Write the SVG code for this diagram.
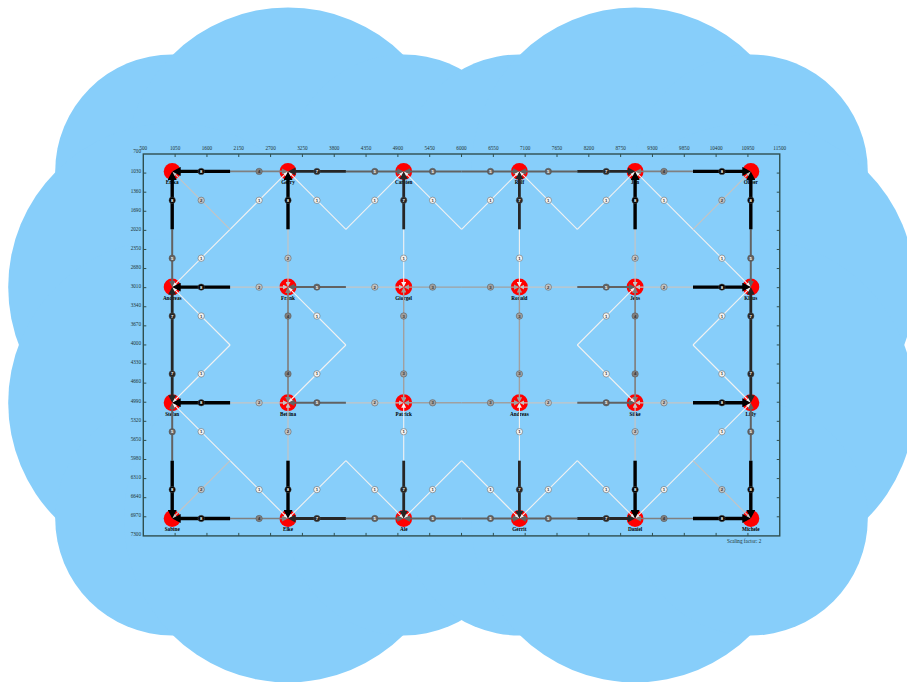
<svg xmlns="http://www.w3.org/2000/svg" width="907" height="682" viewBox="0 0 907 682">
<style>
.cloud circle,.cloud rect{fill:#87cefa}
.ax{fill:none;stroke:#2f4f4f;stroke-width:1.4}
.tk{fill:none;stroke:#2f4f4f;stroke-width:1}
.tl{font-family:"Liberation Serif",serif;font-size:5.2px;fill:#1e3333}
.tx{text-anchor:middle}
.ty{text-anchor:end}
.nd circle{fill:#ff0000}
.nd text{font-family:"Liberation Serif",serif;font-weight:bold;font-size:5.2px;fill:#000;text-anchor:middle}
path.w1,path.w2,path.w3,path.w4,path.w5,path.w7,path.w8{fill:none}
.w1{stroke:#f2f2f2;stroke-width:1.1;marker-end:url(#a1)}
.w2{stroke:#c4c4c4;stroke-width:1.2;marker-end:url(#a2)}
.w3{stroke:#a0a0a0;stroke-width:1.4;marker-end:url(#a3)}
.w4{stroke:#808080;stroke-width:1.7;marker-end:url(#a4)}
.w5{stroke:#626262;stroke-width:2;marker-end:url(#a5)}
.w7{stroke:#262626;stroke-width:2.8;marker-end:url(#a7)}
.w8{stroke:#000;stroke-width:3.4;marker-end:url(#a8)}
.c1{fill:#f2f2f2}.c2{fill:#c4c4c4}.c3{fill:#a0a0a0}.c4{fill:#808080}.c5{fill:#626262}.c7{fill:#262626}.c8{fill:#000}
.edge circle{stroke-width:0.5;stroke:#555}
.edge text{font-family:"Liberation Sans",sans-serif;font-weight:bold;font-size:4.3px;text-anchor:middle}
.dk{fill:#333}.lt{fill:#fff}
.note{font-family:"Liberation Serif",serif;font-size:5.2px;fill:#1e3333}
</style>
<defs>
<marker id="a1" viewBox="0 0 5 5" refX="1" refY="2.5" markerWidth="5" markerHeight="5" markerUnits="userSpaceOnUse" orient="auto"><path d="M0,0L5,2.5L0,5z" fill="#f2f2f2"/></marker>
<marker id="a2" viewBox="0 0 5 5" refX="1" refY="2.5" markerWidth="5" markerHeight="5" markerUnits="userSpaceOnUse" orient="auto"><path d="M0,0L5,2.5L0,5z" fill="#c4c4c4"/></marker>
<marker id="a3" viewBox="0 0 5.5 5.5" refX="1.5" refY="2.75" markerWidth="5.5" markerHeight="5.5" markerUnits="userSpaceOnUse" orient="auto"><path d="M0,0L5.5,2.75L0,5.5z" fill="#a0a0a0"/></marker>
<marker id="a4" viewBox="0 0 6 6" refX="2" refY="3" markerWidth="6" markerHeight="6" markerUnits="userSpaceOnUse" orient="auto"><path d="M0,0L6,3L0,6z" fill="#808080"/></marker>
<marker id="a5" viewBox="0 0 6.5 6.5" refX="2.5" refY="3.25" markerWidth="6.5" markerHeight="6.5" markerUnits="userSpaceOnUse" orient="auto"><path d="M0,0L6.5,3.25L0,6.5z" fill="#626262"/></marker>
<marker id="a7" viewBox="0 0 7.5 8" refX="3.5" refY="4" markerWidth="7.5" markerHeight="8" markerUnits="userSpaceOnUse" orient="auto"><path d="M0,0L7.5,4L0,8z" fill="#262626"/></marker>
<marker id="a8" viewBox="0 0 8.5 9" refX="4.5" refY="4.5" markerWidth="8.5" markerHeight="9" markerUnits="userSpaceOnUse" orient="auto"><path d="M0,0L8.5,4.5L0,9z" fill="#000"/></marker>
</defs>
<rect width="907" height="682" fill="#fff"/>
<g class="cloud">
<circle cx="172.2" cy="171.4" r="117"/><circle cx="288" cy="171.4" r="164"/><circle cx="403.7" cy="171.4" r="117"/><circle cx="519.4" cy="171.4" r="117"/><circle cx="635.1" cy="171.4" r="164"/><circle cx="750.8" cy="171.4" r="117"/>
<circle cx="172.2" cy="287.1" r="164"/><circle cx="172.2" cy="402.8" r="164"/><circle cx="750.8" cy="287.1" r="164"/><circle cx="750.8" cy="402.8" r="164"/>
<circle cx="172.2" cy="518.5" r="117"/><circle cx="288" cy="518.5" r="164"/><circle cx="403.7" cy="518.5" r="117"/><circle cx="519.4" cy="518.5" r="117"/><circle cx="635.1" cy="518.5" r="164"/><circle cx="750.8" cy="518.5" r="117"/>
<rect x="172" y="171" width="579" height="348"/>
</g>
<g id="axes">
<rect class="ax" x="143.3" y="154" width="636.45" height="381.9"/>
<path class="tk" d="M175.12,154v3M206.95,154v3M238.77,154v3M270.59,154v3M302.42,154v3M334.24,154v3M366.06,154v3M397.88,154v3M429.71,154v3M461.53,154v3M493.35,154v3M525.17,154v3M557,154v3M588.82,154v3M620.64,154v3M652.46,154v3M684.29,154v3M716.11,154v3M747.93,154v3"/>
<path class="tk" d="M175.12,535.9v-3M206.95,535.9v-3M238.77,535.9v-3M270.59,535.9v-3M302.42,535.9v-3M334.24,535.9v-3M366.06,535.9v-3M397.88,535.9v-3M429.71,535.9v-3M461.53,535.9v-3M493.35,535.9v-3M525.17,535.9v-3M557,535.9v-3M588.82,535.9v-3M620.64,535.9v-3M652.46,535.9v-3M684.29,535.9v-3M716.11,535.9v-3M747.93,535.9v-3"/>
<path class="tk" d="M143.3,173.09h3M143.3,192.19h3M143.3,211.28h3M143.3,230.38h3M143.3,249.47h3M143.3,268.56h3M143.3,287.66h3M143.3,306.75h3M143.3,325.85h3M143.3,344.94h3M143.3,364.03h3M143.3,383.13h3M143.3,402.22h3M143.3,421.32h3M143.3,440.41h3M143.3,459.5h3M143.3,478.6h3M143.3,497.69h3M143.3,516.79h3"/>
<path class="tk" d="M779.75,173.09h-3M779.75,192.19h-3M779.75,211.28h-3M779.75,230.38h-3M779.75,249.47h-3M779.75,268.56h-3M779.75,287.66h-3M779.75,306.75h-3M779.75,325.85h-3M779.75,344.94h-3M779.75,364.03h-3M779.75,383.13h-3M779.75,402.22h-3M779.75,421.32h-3M779.75,440.41h-3M779.75,459.5h-3M779.75,478.6h-3M779.75,497.69h-3M779.75,516.79h-3"/>
<g class="tl tx">
<text x="143.3" y="149.8">500</text><text x="175.12" y="149.8">1050</text><text x="206.95" y="149.8">1600</text><text x="238.77" y="149.8">2150</text><text x="270.59" y="149.8">2700</text><text x="302.42" y="149.8">3250</text><text x="334.24" y="149.8">3800</text><text x="366.06" y="149.8">4350</text><text x="397.88" y="149.8">4900</text><text x="429.71" y="149.8">5450</text><text x="461.53" y="149.8">6000</text><text x="493.35" y="149.8">6550</text><text x="525.17" y="149.8">7100</text><text x="557" y="149.8">7650</text><text x="588.82" y="149.8">8200</text><text x="620.64" y="149.8">8750</text><text x="652.46" y="149.8">9300</text><text x="684.29" y="149.8">9850</text><text x="716.11" y="149.8">10400</text><text x="747.93" y="149.8">10950</text><text x="779.75" y="149.8">11500</text>
</g>
<g class="tl ty">
<text x="141" y="153.3">700</text><text x="141" y="173.4">1030</text><text x="141" y="192.5">1360</text><text x="141" y="211.6">1690</text><text x="141" y="230.7">2020</text><text x="141" y="249.8">2350</text><text x="141" y="268.9">2680</text><text x="141" y="288">3010</text><text x="141" y="307.1">3340</text><text x="141" y="326.2">3670</text><text x="141" y="345.3">4000</text><text x="141" y="364.3">4330</text><text x="141" y="383.4">4660</text><text x="141" y="402.5">4990</text><text x="141" y="421.6">5320</text><text x="141" y="440.7">5650</text><text x="141" y="459.8">5980</text><text x="141" y="478.9">6310</text><text x="141" y="498">6640</text><text x="141" y="517.1">6970</text><text x="141" y="536.2">7300</text>
</g>
<text class="note" x="727" y="542.5">Scaling factor: 2</text>
</g>
<g id="nodes">
<g class="nd" id="n-erika"><circle cx="172.2" cy="171.4" r="8.5"/><text x="172.2" y="184.2">Erika</text></g>
<g class="nd" id="n-gerry"><circle cx="288" cy="171.4" r="8.5"/><text x="288" y="184.2">Gerry</text></g>
<g class="nd" id="n-carsten"><circle cx="403.7" cy="171.4" r="8.5"/><text x="403.7" y="184.2">Carsten</text></g>
<g class="nd" id="n-rolf"><circle cx="519.4" cy="171.4" r="8.5"/><text x="519.4" y="184.2">Rolf</text></g>
<g class="nd" id="n-jan"><circle cx="635.1" cy="171.4" r="8.5"/><text x="635.1" y="184.2">Jan</text></g>
<g class="nd" id="n-oliver"><circle cx="750.8" cy="171.4" r="8.5"/><text x="750.8" y="184.2">Oliver</text></g>
<g class="nd" id="n-andreas1"><circle cx="172.2" cy="287.1" r="8.5"/><text x="172.2" y="299.9">Andreas</text></g>
<g class="nd" id="n-frank"><circle cx="288" cy="287.1" r="8.5"/><text x="288" y="299.9">Frank</text></g>
<g class="nd" id="n-giorgel"><circle cx="403.7" cy="287.1" r="8.5"/><text x="403.7" y="299.9">Giorgel</text></g>
<g class="nd" id="n-ronald"><circle cx="519.4" cy="287.1" r="8.5"/><text x="519.4" y="299.9">Ronald</text></g>
<g class="nd" id="n-jens"><circle cx="635.1" cy="287.1" r="8.5"/><text x="635.1" y="299.9">Jens</text></g>
<g class="nd" id="n-klaus"><circle cx="750.8" cy="287.1" r="8.5"/><text x="750.8" y="299.9">Klaus</text></g>
<g class="nd" id="n-stefan"><circle cx="172.2" cy="402.8" r="8.5"/><text x="172.2" y="415.6">Stefan</text></g>
<g class="nd" id="n-bettina"><circle cx="288" cy="402.8" r="8.5"/><text x="288" y="415.6">Bettina</text></g>
<g class="nd" id="n-patrick"><circle cx="403.7" cy="402.8" r="8.5"/><text x="403.7" y="415.6">Patrick</text></g>
<g class="nd" id="n-andreas2"><circle cx="519.4" cy="402.8" r="8.5"/><text x="519.4" y="415.6">Andreas</text></g>
<g class="nd" id="n-silke"><circle cx="635.1" cy="402.8" r="8.5"/><text x="635.1" y="415.6">Silke</text></g>
<g class="nd" id="n-lilly"><circle cx="750.8" cy="402.8" r="8.5"/><text x="750.8" y="415.6">Lilly</text></g>
<g class="nd" id="n-sabine"><circle cx="172.2" cy="518.5" r="8.5"/><text x="172.2" y="531.3">Sabine</text></g>
<g class="nd" id="n-elke"><circle cx="288" cy="518.5" r="8.5"/><text x="288" y="531.3">Elke</text></g>
<g class="nd" id="n-ale"><circle cx="403.7" cy="518.5" r="8.5"/><text x="403.7" y="531.3">Ale</text></g>
<g class="nd" id="n-gerrit"><circle cx="519.4" cy="518.5" r="8.5"/><text x="519.4" y="531.3">Gerrit</text></g>
<g class="nd" id="n-daniel"><circle cx="635.1" cy="518.5" r="8.5"/><text x="635.1" y="531.3">Daniel</text></g>
<g class="nd" id="n-michele"><circle cx="750.8" cy="518.5" r="8.5"/><text x="750.8" y="531.3">Michele</text></g>
</g>
<g id="connectors">
<g class="edge"><path class="w1" d="M403.7,229.3V283.1"/><circle class="c1" cx="403.7" cy="258.2" r="3.2"/><text class="dk" x="403.7" y="259.7">1</text></g>
<g class="edge"><path class="w1" d="M403.7,460.7V406.8"/><circle class="c1" cx="403.7" cy="431.7" r="3.2"/><text class="dk" x="403.7" y="433.2">1</text></g>
<g class="edge"><path class="w1" d="M519.4,229.3V283.1"/><circle class="c1" cx="519.4" cy="258.2" r="3.2"/><text class="dk" x="519.4" y="259.7">1</text></g>
<g class="edge"><path class="w1" d="M519.4,460.7V406.8"/><circle class="c1" cx="519.4" cy="431.7" r="3.2"/><text class="dk" x="519.4" y="433.2">1</text></g>
<g class="edge"><path class="w1" d="M230.1,229.3L285.2,174.2"/><circle class="c1" cx="259.1" cy="200.3" r="3.2"/><text class="dk" x="259.1" y="201.8">1</text></g>
<g class="edge"><path class="w1" d="M230.1,229.3L175,284.3"/><circle class="c1" cx="201.2" cy="258.2" r="3.2"/><text class="dk" x="201.2" y="259.7">1</text></g>
<g class="edge"><path class="w1" d="M345.9,229.3L290.8,174.2"/><circle class="c1" cx="316.9" cy="200.3" r="3.2"/><text class="dk" x="316.9" y="201.8">1</text></g>
<g class="edge"><path class="w1" d="M345.9,229.3L400.9,174.2"/><circle class="c1" cx="374.8" cy="200.3" r="3.2"/><text class="dk" x="374.8" y="201.8">1</text></g>
<g class="edge"><path class="w1" d="M461.6,229.3L406.5,174.2"/><circle class="c1" cx="432.6" cy="200.3" r="3.2"/><text class="dk" x="432.6" y="201.8">1</text></g>
<g class="edge"><path class="w1" d="M461.6,229.3L516.6,174.2"/><circle class="c1" cx="490.5" cy="200.3" r="3.2"/><text class="dk" x="490.5" y="201.8">1</text></g>
<g class="edge"><path class="w1" d="M577.3,229.3L522.2,174.2"/><circle class="c1" cx="548.3" cy="200.3" r="3.2"/><text class="dk" x="548.3" y="201.8">1</text></g>
<g class="edge"><path class="w1" d="M577.3,229.3L632.3,174.2"/><circle class="c1" cx="606.2" cy="200.3" r="3.2"/><text class="dk" x="606.2" y="201.8">1</text></g>
<g class="edge"><path class="w1" d="M693,229.3L637.9,174.2"/><circle class="c1" cx="664" cy="200.3" r="3.2"/><text class="dk" x="664" y="201.8">1</text></g>
<g class="edge"><path class="w1" d="M693,229.3L748,284.3"/><circle class="c1" cx="721.9" cy="258.2" r="3.2"/><text class="dk" x="721.9" y="259.7">1</text></g>
<g class="edge"><path class="w1" d="M230.1,345L175,289.9"/><circle class="c1" cx="201.2" cy="316" r="3.2"/><text class="dk" x="201.2" y="317.5">1</text></g>
<g class="edge"><path class="w1" d="M230.1,345L175,400"/><circle class="c1" cx="201.2" cy="373.9" r="3.2"/><text class="dk" x="201.2" y="375.4">1</text></g>
<g class="edge"><path class="w1" d="M345.9,345L290.8,289.9"/><circle class="c1" cx="316.9" cy="316" r="3.2"/><text class="dk" x="316.9" y="317.5">1</text></g>
<g class="edge"><path class="w1" d="M345.9,345L290.8,400"/><circle class="c1" cx="316.9" cy="373.9" r="3.2"/><text class="dk" x="316.9" y="375.4">1</text></g>
<g class="edge"><path class="w1" d="M577.3,345L632.3,289.9"/><circle class="c1" cx="606.2" cy="316" r="3.2"/><text class="dk" x="606.2" y="317.5">1</text></g>
<g class="edge"><path class="w1" d="M577.3,345L632.3,400"/><circle class="c1" cx="606.2" cy="373.9" r="3.2"/><text class="dk" x="606.2" y="375.4">1</text></g>
<g class="edge"><path class="w1" d="M693,345L748,289.9"/><circle class="c1" cx="721.9" cy="316" r="3.2"/><text class="dk" x="721.9" y="317.5">1</text></g>
<g class="edge"><path class="w1" d="M693,345L748,400"/><circle class="c1" cx="721.9" cy="373.9" r="3.2"/><text class="dk" x="721.9" y="375.4">1</text></g>
<g class="edge"><path class="w1" d="M230.1,460.7L175,405.6"/><circle class="c1" cx="201.2" cy="431.7" r="3.2"/><text class="dk" x="201.2" y="433.2">1</text></g>
<g class="edge"><path class="w1" d="M230.1,460.7L285.2,515.7"/><circle class="c1" cx="259.1" cy="489.6" r="3.2"/><text class="dk" x="259.1" y="491.1">1</text></g>
<g class="edge"><path class="w1" d="M345.9,460.7L290.8,515.7"/><circle class="c1" cx="316.9" cy="489.6" r="3.2"/><text class="dk" x="316.9" y="491.1">1</text></g>
<g class="edge"><path class="w1" d="M345.9,460.7L400.9,515.7"/><circle class="c1" cx="374.8" cy="489.6" r="3.2"/><text class="dk" x="374.8" y="491.1">1</text></g>
<g class="edge"><path class="w1" d="M461.6,460.7L406.5,515.7"/><circle class="c1" cx="432.6" cy="489.6" r="3.2"/><text class="dk" x="432.6" y="491.1">1</text></g>
<g class="edge"><path class="w1" d="M461.6,460.7L516.6,515.7"/><circle class="c1" cx="490.5" cy="489.6" r="3.2"/><text class="dk" x="490.5" y="491.1">1</text></g>
<g class="edge"><path class="w1" d="M577.3,460.7L522.2,515.7"/><circle class="c1" cx="548.3" cy="489.6" r="3.2"/><text class="dk" x="548.3" y="491.1">1</text></g>
<g class="edge"><path class="w1" d="M577.3,460.7L632.3,515.7"/><circle class="c1" cx="606.2" cy="489.6" r="3.2"/><text class="dk" x="606.2" y="491.1">1</text></g>
<g class="edge"><path class="w1" d="M693,460.7L637.9,515.7"/><circle class="c1" cx="664" cy="489.6" r="3.2"/><text class="dk" x="664" y="491.1">1</text></g>
<g class="edge"><path class="w1" d="M693,460.7L748,405.6"/><circle class="c1" cx="721.9" cy="431.7" r="3.2"/><text class="dk" x="721.9" y="433.2">1</text></g>
<g class="edge"><path class="w2" d="M230.1,229.3L175,174.2"/><circle class="c2" cx="201.2" cy="200.3" r="3.2"/><text class="dk" x="201.2" y="201.8">2</text></g>
<g class="edge"><path class="w2" d="M693,229.3L748,174.2"/><circle class="c2" cx="721.9" cy="200.3" r="3.2"/><text class="dk" x="721.9" y="201.8">2</text></g>
<g class="edge"><path class="w2" d="M230.1,460.7L175,515.7"/><circle class="c2" cx="201.2" cy="489.6" r="3.2"/><text class="dk" x="201.2" y="491.1">2</text></g>
<g class="edge"><path class="w2" d="M693,460.7L748,515.7"/><circle class="c2" cx="721.9" cy="489.6" r="3.2"/><text class="dk" x="721.9" y="491.1">2</text></g>
<g class="edge"><path class="w2" d="M230.1,287.1H284"/><circle class="c2" cx="259.1" cy="287.1" r="3.2"/><text class="dk" x="259.1" y="288.6">2</text></g>
<g class="edge"><path class="w2" d="M345.9,287.1H399.7"/><circle class="c2" cx="374.8" cy="287.1" r="3.2"/><text class="dk" x="374.8" y="288.6">2</text></g>
<g class="edge"><path class="w2" d="M577.3,287.1H523.4"/><circle class="c2" cx="548.3" cy="287.1" r="3.2"/><text class="dk" x="548.3" y="288.6">2</text></g>
<g class="edge"><path class="w2" d="M693,287.1H639.1"/><circle class="c2" cx="664" cy="287.1" r="3.2"/><text class="dk" x="664" y="288.6">2</text></g>
<g class="edge"><path class="w2" d="M230.1,402.8H284"/><circle class="c2" cx="259.1" cy="402.8" r="3.2"/><text class="dk" x="259.1" y="404.3">2</text></g>
<g class="edge"><path class="w2" d="M345.9,402.8H399.7"/><circle class="c2" cx="374.8" cy="402.8" r="3.2"/><text class="dk" x="374.8" y="404.3">2</text></g>
<g class="edge"><path class="w2" d="M577.3,402.8H523.4"/><circle class="c2" cx="548.3" cy="402.8" r="3.2"/><text class="dk" x="548.3" y="404.3">2</text></g>
<g class="edge"><path class="w2" d="M693,402.8H639.1"/><circle class="c2" cx="664" cy="402.8" r="3.2"/><text class="dk" x="664" y="404.3">2</text></g>
<g class="edge"><path class="w2" d="M288,229.3V283.1"/><circle class="c2" cx="288" cy="258.2" r="3.2"/><text class="dk" x="288" y="259.7">2</text></g>
<g class="edge"><path class="w2" d="M288,460.7V406.8"/><circle class="c2" cx="288" cy="431.7" r="3.2"/><text class="dk" x="288" y="433.2">2</text></g>
<g class="edge"><path class="w2" d="M635.1,229.3V283.1"/><circle class="c2" cx="635.1" cy="258.2" r="3.2"/><text class="dk" x="635.1" y="259.7">2</text></g>
<g class="edge"><path class="w2" d="M635.1,460.7V406.8"/><circle class="c2" cx="635.1" cy="431.7" r="3.2"/><text class="dk" x="635.1" y="433.2">2</text></g>
<g class="edge"><path class="w3" d="M461.6,287.1H407.7"/><circle class="c3" cx="432.6" cy="287.1" r="3.2"/><text class="dk" x="432.6" y="288.6">3</text></g>
<g class="edge"><path class="w3" d="M461.6,287.1H515.4"/><circle class="c3" cx="490.5" cy="287.1" r="3.2"/><text class="dk" x="490.5" y="288.6">3</text></g>
<g class="edge"><path class="w3" d="M461.6,402.8H407.7"/><circle class="c3" cx="432.6" cy="402.8" r="3.2"/><text class="dk" x="432.6" y="404.3">3</text></g>
<g class="edge"><path class="w3" d="M461.6,402.8H515.4"/><circle class="c3" cx="490.5" cy="402.8" r="3.2"/><text class="dk" x="490.5" y="404.3">3</text></g>
<g class="edge"><path class="w3" d="M403.7,345V291.1"/><circle class="c3" cx="403.7" cy="316" r="3.2"/><text class="dk" x="403.7" y="317.5">3</text></g>
<g class="edge"><path class="w3" d="M403.7,345V398.8"/><circle class="c3" cx="403.7" cy="373.9" r="3.2"/><text class="dk" x="403.7" y="375.4">3</text></g>
<g class="edge"><path class="w3" d="M519.4,345V291.1"/><circle class="c3" cx="519.4" cy="316" r="3.2"/><text class="dk" x="519.4" y="317.5">3</text></g>
<g class="edge"><path class="w3" d="M519.4,345V398.8"/><circle class="c3" cx="519.4" cy="373.9" r="3.2"/><text class="dk" x="519.4" y="375.4">3</text></g>
<g class="edge"><path class="w4" d="M230.1,171.4H284"/><circle class="c4" cx="259.1" cy="171.4" r="3.2"/><text class="dk" x="259.1" y="172.9">4</text></g>
<g class="edge"><path class="w4" d="M693,171.4H639.1"/><circle class="c4" cx="664" cy="171.4" r="3.2"/><text class="dk" x="664" y="172.9">4</text></g>
<g class="edge"><path class="w4" d="M230.1,518.5H284"/><circle class="c4" cx="259.1" cy="518.5" r="3.2"/><text class="dk" x="259.1" y="520">4</text></g>
<g class="edge"><path class="w4" d="M693,518.5H639.1"/><circle class="c4" cx="664" cy="518.5" r="3.2"/><text class="dk" x="664" y="520">4</text></g>
<g class="edge"><path class="w4" d="M288,345V291.1"/><circle class="c4" cx="288" cy="316" r="3.2"/><text class="dk" x="288" y="317.5">4</text></g>
<g class="edge"><path class="w4" d="M288,345V398.8"/><circle class="c4" cx="288" cy="373.9" r="3.2"/><text class="dk" x="288" y="375.4">4</text></g>
<g class="edge"><path class="w4" d="M635.1,345V291.1"/><circle class="c4" cx="635.1" cy="316" r="3.2"/><text class="dk" x="635.1" y="317.5">4</text></g>
<g class="edge"><path class="w4" d="M635.1,345V398.8"/><circle class="c4" cx="635.1" cy="373.9" r="3.2"/><text class="dk" x="635.1" y="375.4">4</text></g>
<g class="edge"><path class="w5" d="M345.9,171.4H399.7"/><circle class="c5" cx="374.8" cy="171.4" r="3.2"/><text class="lt" x="374.8" y="172.9">5</text></g>
<g class="edge"><path class="w5" d="M461.6,171.4H407.7"/><circle class="c5" cx="432.6" cy="171.4" r="3.2"/><text class="lt" x="432.6" y="172.9">5</text></g>
<g class="edge"><path class="w5" d="M461.6,171.4H515.4"/><circle class="c5" cx="490.5" cy="171.4" r="3.2"/><text class="lt" x="490.5" y="172.9">5</text></g>
<g class="edge"><path class="w5" d="M577.3,171.4H523.4"/><circle class="c5" cx="548.3" cy="171.4" r="3.2"/><text class="lt" x="548.3" y="172.9">5</text></g>
<g class="edge"><path class="w5" d="M345.9,518.5H399.7"/><circle class="c5" cx="374.8" cy="518.5" r="3.2"/><text class="lt" x="374.8" y="520">5</text></g>
<g class="edge"><path class="w5" d="M461.6,518.5H407.7"/><circle class="c5" cx="432.6" cy="518.5" r="3.2"/><text class="lt" x="432.6" y="520">5</text></g>
<g class="edge"><path class="w5" d="M461.6,518.5H515.4"/><circle class="c5" cx="490.5" cy="518.5" r="3.2"/><text class="lt" x="490.5" y="520">5</text></g>
<g class="edge"><path class="w5" d="M577.3,518.5H523.4"/><circle class="c5" cx="548.3" cy="518.5" r="3.2"/><text class="lt" x="548.3" y="520">5</text></g>
<g class="edge"><path class="w5" d="M345.9,287.1H292"/><circle class="c5" cx="316.9" cy="287.1" r="3.2"/><text class="lt" x="316.9" y="288.6">5</text></g>
<g class="edge"><path class="w5" d="M577.3,287.1H631.1"/><circle class="c5" cx="606.2" cy="287.1" r="3.2"/><text class="lt" x="606.2" y="288.6">5</text></g>
<g class="edge"><path class="w5" d="M345.9,402.8H292"/><circle class="c5" cx="316.9" cy="402.8" r="3.2"/><text class="lt" x="316.9" y="404.3">5</text></g>
<g class="edge"><path class="w5" d="M577.3,402.8H631.1"/><circle class="c5" cx="606.2" cy="402.8" r="3.2"/><text class="lt" x="606.2" y="404.3">5</text></g>
<g class="edge"><path class="w5" d="M172.2,229.3V283.1"/><circle class="c5" cx="172.2" cy="258.2" r="3.2"/><text class="lt" x="172.2" y="259.7">5</text></g>
<g class="edge"><path class="w5" d="M172.2,460.7V406.8"/><circle class="c5" cx="172.2" cy="431.7" r="3.2"/><text class="lt" x="172.2" y="433.2">5</text></g>
<g class="edge"><path class="w5" d="M750.8,229.3V283.1"/><circle class="c5" cx="750.8" cy="258.2" r="3.2"/><text class="lt" x="750.8" y="259.7">5</text></g>
<g class="edge"><path class="w5" d="M750.8,460.7V406.8"/><circle class="c5" cx="750.8" cy="431.7" r="3.2"/><text class="lt" x="750.8" y="433.2">5</text></g>
<g class="edge"><path class="w7" d="M345.9,171.4H292"/><circle class="c7" cx="316.9" cy="171.4" r="3.2"/><text class="lt" x="316.9" y="172.9">7</text></g>
<g class="edge"><path class="w7" d="M577.3,171.4H631.1"/><circle class="c7" cx="606.2" cy="171.4" r="3.2"/><text class="lt" x="606.2" y="172.9">7</text></g>
<g class="edge"><path class="w7" d="M345.9,518.5H292"/><circle class="c7" cx="316.9" cy="518.5" r="3.2"/><text class="lt" x="316.9" y="520">7</text></g>
<g class="edge"><path class="w7" d="M577.3,518.5H631.1"/><circle class="c7" cx="606.2" cy="518.5" r="3.2"/><text class="lt" x="606.2" y="520">7</text></g>
<g class="edge"><path class="w7" d="M172.2,345V291.1"/><circle class="c7" cx="172.2" cy="316" r="3.2"/><text class="lt" x="172.2" y="317.5">7</text></g>
<g class="edge"><path class="w7" d="M172.2,345V398.8"/><circle class="c7" cx="172.2" cy="373.9" r="3.2"/><text class="lt" x="172.2" y="375.4">7</text></g>
<g class="edge"><path class="w7" d="M750.8,345V291.1"/><circle class="c7" cx="750.8" cy="316" r="3.2"/><text class="lt" x="750.8" y="317.5">7</text></g>
<g class="edge"><path class="w7" d="M750.8,345V398.8"/><circle class="c7" cx="750.8" cy="373.9" r="3.2"/><text class="lt" x="750.8" y="375.4">7</text></g>
<g class="edge"><path class="w7" d="M403.7,229.3V175.4"/><circle class="c7" cx="403.7" cy="200.3" r="3.2"/><text class="lt" x="403.7" y="201.8">7</text></g>
<g class="edge"><path class="w7" d="M403.7,460.7V514.5"/><circle class="c7" cx="403.7" cy="489.6" r="3.2"/><text class="lt" x="403.7" y="491.1">7</text></g>
<g class="edge"><path class="w7" d="M519.4,229.3V175.4"/><circle class="c7" cx="519.4" cy="200.3" r="3.2"/><text class="lt" x="519.4" y="201.8">7</text></g>
<g class="edge"><path class="w7" d="M519.4,460.7V514.5"/><circle class="c7" cx="519.4" cy="489.6" r="3.2"/><text class="lt" x="519.4" y="491.1">7</text></g>
<g class="edge"><path class="w8" d="M230.1,171.4H176.2"/><circle class="c8" cx="201.2" cy="171.4" r="3.2"/><text class="lt" x="201.2" y="172.9">8</text></g>
<g class="edge"><path class="w8" d="M693,171.4H746.8"/><circle class="c8" cx="721.9" cy="171.4" r="3.2"/><text class="lt" x="721.9" y="172.9">8</text></g>
<g class="edge"><path class="w8" d="M230.1,287.1H176.2"/><circle class="c8" cx="201.2" cy="287.1" r="3.2"/><text class="lt" x="201.2" y="288.6">8</text></g>
<g class="edge"><path class="w8" d="M693,287.1H746.8"/><circle class="c8" cx="721.9" cy="287.1" r="3.2"/><text class="lt" x="721.9" y="288.6">8</text></g>
<g class="edge"><path class="w8" d="M230.1,402.8H176.2"/><circle class="c8" cx="201.2" cy="402.8" r="3.2"/><text class="lt" x="201.2" y="404.3">8</text></g>
<g class="edge"><path class="w8" d="M693,402.8H746.8"/><circle class="c8" cx="721.9" cy="402.8" r="3.2"/><text class="lt" x="721.9" y="404.3">8</text></g>
<g class="edge"><path class="w8" d="M230.1,518.5H176.2"/><circle class="c8" cx="201.2" cy="518.5" r="3.2"/><text class="lt" x="201.2" y="520">8</text></g>
<g class="edge"><path class="w8" d="M693,518.5H746.8"/><circle class="c8" cx="721.9" cy="518.5" r="3.2"/><text class="lt" x="721.9" y="520">8</text></g>
<g class="edge"><path class="w8" d="M172.2,229.3V175.4"/><circle class="c8" cx="172.2" cy="200.3" r="3.2"/><text class="lt" x="172.2" y="201.8">8</text></g>
<g class="edge"><path class="w8" d="M172.2,460.7V514.5"/><circle class="c8" cx="172.2" cy="489.6" r="3.2"/><text class="lt" x="172.2" y="491.1">8</text></g>
<g class="edge"><path class="w8" d="M288,229.3V175.4"/><circle class="c8" cx="288" cy="200.3" r="3.2"/><text class="lt" x="288" y="201.8">8</text></g>
<g class="edge"><path class="w8" d="M288,460.7V514.5"/><circle class="c8" cx="288" cy="489.6" r="3.2"/><text class="lt" x="288" y="491.1">8</text></g>
<g class="edge"><path class="w8" d="M635.1,229.3V175.4"/><circle class="c8" cx="635.1" cy="200.3" r="3.2"/><text class="lt" x="635.1" y="201.8">8</text></g>
<g class="edge"><path class="w8" d="M635.1,460.7V514.5"/><circle class="c8" cx="635.1" cy="489.6" r="3.2"/><text class="lt" x="635.1" y="491.1">8</text></g>
<g class="edge"><path class="w8" d="M750.8,229.3V175.4"/><circle class="c8" cx="750.8" cy="200.3" r="3.2"/><text class="lt" x="750.8" y="201.8">8</text></g>
<g class="edge"><path class="w8" d="M750.8,460.7V514.5"/><circle class="c8" cx="750.8" cy="489.6" r="3.2"/><text class="lt" x="750.8" y="491.1">8</text></g>
</g>
</svg>
